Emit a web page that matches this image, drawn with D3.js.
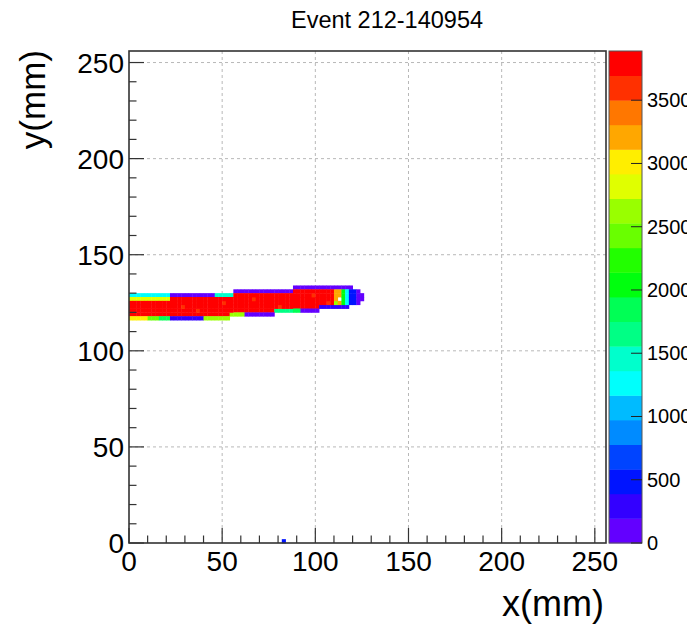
<!DOCTYPE html>
<html>
<head>
<meta charset="utf-8">
<script src="https://cdn.jsdelivr.net/npm/d3@7"></script>
<style>
  body { margin: 0; background: #fff; }
  svg { display: block; font-family: "Liberation Sans", Arial, sans-serif; }
</style>
</head>
<body>
<svg id="chart" width="687" height="629"></svg>
<script>
const title = "Event 212-140954";
const xTicks = [0, 50, 100, 150, 200, 250];
const yTicks = [0, 50, 100, 150, 200, 250];
const zTicks = [0, 500, 1000, 1500, 2000, 2500, 3000, 3500];
const zMax = 3889;
const nContours = 20;
const binSize = 2; // mm

// runs of 2 mm bins sharing one charge: [x0, x1, y0, y1, charge]; later runs overwrite, 0 = empty
const trackRuns = [
  [0, 22, 128, 130, 1200],
  [0, 22, 126, 128, 2900],
  [0, 22, 118, 126, 3850],
  [0, 10, 116, 118, 3100],
  [10, 16, 116, 118, 2500],
  [16, 22, 116, 118, 1900],

  [22, 46, 128, 130, 120],
  [46, 56, 128, 130, 1500],
  [22, 56, 118, 128, 3850],
  [22, 40, 116, 118, 250],
  [40, 54, 116, 118, 2600],

  [56, 88, 130, 132, 120],
  [56, 88, 120, 130, 3850],
  [54, 62, 118, 120, 2600],
  [62, 78, 118, 120, 150],
  [78, 88, 120, 122, 1600],

  [88, 120, 132, 134, 120],
  [88, 110, 122, 132, 3850],
  [88, 92, 120, 122, 1800],
  [92, 102, 120, 122, 180],
  [102, 118, 122, 124, 200],

  [110, 114, 124, 132, 3300],
  [110, 112, 124, 126, 2600],
  [112, 114, 126, 128, 0],
  [114, 116, 124, 132, 2100],
  [116, 118, 124, 132, 1200],
  [118, 122, 124, 132, 500],
  [122, 124, 124, 132, 150],
  [124, 126, 126, 130, 100],

  // slightly cooler cells inside the core
  [28, 30, 122, 124, 3600],
  [36, 38, 120, 122, 3600],
  [50, 52, 124, 126, 3600],
  [66, 68, 126, 128, 3600],
  [80, 82, 122, 124, 3600],
  [98, 100, 128, 130, 3600],
  [106, 108, 124, 126, 3600],

  // stray hit at the bottom edge
  [82, 84, 0, 2, 400]
];

const W = 687, H = 629;
const m = { left: 129, right: 606, top: 51, bottom: 543 };

const svg = d3.select("#chart");

const x = d3.scaleLinear().domain([0, 256]).range([m.left, m.right]);
const y = d3.scaleLinear().domain([0, 256]).range([m.bottom, m.top]);
const z = d3.scaleLinear().domain([0, zMax]).range([m.bottom, m.top]);

// ROOT "pretty palette": 50 hues violet -> red, picked per contour
function contourColor(k) {
  const idx = Math.floor((k + 0.99) * 50 / nContours);
  const hue = idx >= 49 ? 0 : 280 - (idx + 1) * 5.6;
  return d3.hsl(hue, 1, 0.5).formatHex();
}
function colorOf(v) {
  let k = Math.floor(v / (zMax / nContours));
  k = Math.max(0, Math.min(nContours - 1, k));
  return contourColor(k);
}

// expand runs into bins
const bins = new Map();
trackRuns.forEach(([x0, x1, y0, y1, c]) => {
  for (let bx = x0; bx < x1; bx += binSize) {
    for (let by = y0; by < y1; by += binSize) {
      bins.set(bx + "," + by, { bx, by, c });
    }
  }
});
const cells = Array.from(bins.values()).filter((d) => d.c > 0);

// grid
const grid = svg.append("g")
  .attr("stroke", "#b8b8b8")
  .attr("stroke-width", 1)
  .attr("stroke-dasharray", "3,3");
grid.selectAll("line.gx")
  .data(xTicks.filter((t) => t > 0))
  .join("line")
  .attr("x1", (d) => x(d)).attr("x2", (d) => x(d))
  .attr("y1", m.top).attr("y2", m.bottom);
grid.selectAll("line.gy")
  .data(yTicks.filter((t) => t > 0))
  .join("line")
  .attr("class", "gy")
  .attr("x1", m.left).attr("x2", m.right)
  .attr("y1", (d) => y(d)).attr("y2", (d) => y(d));

// histogram cells
svg.append("g")
  .selectAll("rect")
  .data(cells)
  .join("rect")
  .attr("x", (d) => x(d.bx))
  .attr("y", (d) => y(d.by + binSize))
  .attr("width", (d) => x(d.bx + binSize) - x(d.bx) + 0.4)
  .attr("height", (d) => y(d.by) - y(d.by + binSize) + 0.4)
  .attr("fill", (d) => colorOf(d.c));

// ticks (drawn inward like ROOT)
const tickG = svg.append("g").attr("stroke", "#333").attr("stroke-width", 1.2);
const minorX = d3.range(0, 256, 10).filter((t) => t % 50 !== 0);
tickG.selectAll("line.mx")
  .data(minorX)
  .join("line")
  .attr("x1", (d) => x(d)).attr("x2", (d) => x(d))
  .attr("y1", m.bottom).attr("y2", m.bottom - 7.5);
tickG.selectAll("line.Mx")
  .data(xTicks)
  .join("line")
  .attr("class", "Mx")
  .attr("x1", (d) => x(d)).attr("x2", (d) => x(d))
  .attr("y1", m.bottom).attr("y2", m.bottom - 15);
tickG.selectAll("line.my")
  .data(minorX)
  .join("line")
  .attr("class", "my")
  .attr("x1", m.left).attr("x2", m.left + 7.5)
  .attr("y1", (d) => y(d)).attr("y2", (d) => y(d));
tickG.selectAll("line.My")
  .data(yTicks)
  .join("line")
  .attr("class", "My")
  .attr("x1", m.left).attr("x2", m.left + 15)
  .attr("y1", (d) => y(d)).attr("y2", (d) => y(d));

// frame
svg.append("rect")
  .attr("x", m.left).attr("y", m.top)
  .attr("width", m.right - m.left).attr("height", m.bottom - m.top)
  .attr("fill", "none").attr("stroke", "#333").attr("stroke-width", 1.6);

// tick labels
svg.append("g")
  .selectAll("text")
  .data(xTicks)
  .join("text")
  .attr("x", (d) => x(d))
  .attr("y", 571)
  .attr("text-anchor", "middle")
  .attr("font-size", 28)
  .text((d) => d);
svg.append("g")
  .selectAll("text")
  .data(yTicks)
  .join("text")
  .attr("x", 124)
  .attr("y", (d) => y(d) + 10)
  .attr("text-anchor", "end")
  .attr("font-size", 28)
  .text((d) => d);

// axis titles
svg.append("text")
  .attr("x", 604).attr("y", 616)
  .attr("text-anchor", "end")
  .attr("font-size", 36)
  .text("x(mm)");
svg.append("text")
  .attr("transform", `translate(45,${m.top - 1}) rotate(-90)`)
  .attr("text-anchor", "end")
  .attr("font-size", 35)
  .text("y(mm)");

svg.append("text")
  .attr("x", 387).attr("y", 28)
  .attr("text-anchor", "middle")
  .attr("font-size", 23.5)
  .text(title);

// colour bar
const barX0 = 609, barX1 = 642;
const bands = d3.range(nContours);
svg.append("g")
  .selectAll("rect")
  .data(bands)
  .join("rect")
  .attr("x", barX0)
  .attr("width", barX1 - barX0)
  .attr("y", (k) => z((k + 1) * zMax / nContours))
  .attr("height", (k) => z(k * zMax / nContours) - z((k + 1) * zMax / nContours) + 0.4)
  .attr("fill", (k) => contourColor(k));
svg.append("rect")
  .attr("x", barX0).attr("y", m.top)
  .attr("width", barX1 - barX0).attr("height", m.bottom - m.top)
  .attr("fill", "none").attr("stroke", "#555").attr("stroke-width", 1);
svg.append("g")
  .attr("stroke", "#222").attr("stroke-width", 1)
  .selectAll("line")
  .data(zTicks)
  .join("line")
  .attr("x1", barX1 - 11).attr("x2", barX1)
  .attr("y1", (d) => z(d)).attr("y2", (d) => z(d));
svg.append("g")
  .selectAll("text")
  .data(zTicks)
  .join("text")
  .attr("x", 647)
  .attr("y", (d) => z(d) + 7)
  .attr("font-size", 20)
  .text((d) => d);
</script>
</body>
</html>
